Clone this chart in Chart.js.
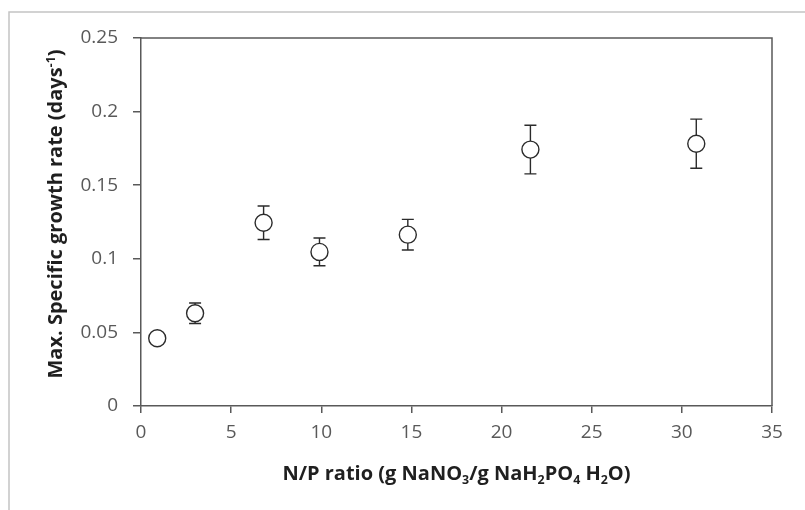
<!DOCTYPE html>
<html>
<head>
<meta charset="utf-8">
<title>Max. specific growth rate vs N/P ratio</title>
<script src="https://cdn.jsdelivr.net/npm/chart.js@4/dist/chart.umd.min.js"></script>
<style>
    html, body { margin: 0; padding: 0; background: #fff; }
    #wrap { width: 805px; height: 510px; position: relative; }
</style>
</head>
<body>
<div id="wrap"><canvas id="growthChart" width="805" height="510"></canvas></div>
<script>
// ===== DATA =====
var npRatio = [0.9, 3.0, 6.8, 9.9, 14.8, 21.6, 30.8];
var growthRate = [0.046, 0.063, 0.1245, 0.1047, 0.1164, 0.1742, 0.1782];
var growthErr = [0.003, 0.007, 0.0114, 0.0094, 0.0104, 0.0165, 0.0167];
var xTicks = [0, 5, 10, 15, 20, 25, 30, 35];
var yTicks = [0, 0.05, 0.1, 0.15, 0.2, 0.25];

// axis titles, split so sub/superscripts can be drawn smaller
var xTitle = [
    { t: 'N/P ratio (g NaNO' }, { t: '3', sub: true }, { t: '/g NaH' }, { t: '2', sub: true },
    { t: 'PO' }, { t: '4', sub: true }, { t: ' H' }, { t: '2', sub: true }, { t: 'O)' }
];
var yTitle = [
    { t: 'Max. Specific growth rate (days' }, { t: '-1', sup: true }, { t: ')' }
];

var FONT = '"Open Sans", Lato, sans-serif';
var AXIS = '#595959';
var TITLE_SIZE = 20;

function richWidth(ctx, parts, size) {
    var w = 0;
    parts.forEach(function(p) {
        ctx.font = 'bold ' + (p.sub || p.sup ? size * 0.62 : size) + 'px ' + FONT;
        w += ctx.measureText(p.t).width;
    });
    return w;
}

function drawRich(ctx, parts, size, cx, baseline) {
    var x = cx - richWidth(ctx, parts, size) / 2;
    ctx.textAlign = 'left';
    ctx.textBaseline = 'alphabetic';
    parts.forEach(function(p) {
        var s = p.sub || p.sup ? size * 0.62 : size;
        var dy = p.sub ? size * 0.2 : (p.sup ? -size * 0.36 : 0);
        ctx.font = 'bold ' + s + 'px ' + FONT;
        ctx.fillText(p.t, x, baseline + dy);
        x += ctx.measureText(p.t).width;
    });
}

// ===== PLUGINS =====
var frameAndTitles = {
    id: 'frameAndTitles',
    beforeDraw: function(chart) {
        var ctx = chart.ctx;
        ctx.save();
        ctx.fillStyle = '#fff';
        ctx.fillRect(0, 0, chart.width, chart.height);
        // outer chart border
        ctx.strokeStyle = '#c4c4c4';
        ctx.lineWidth = 1.5;
        ctx.beginPath();
        ctx.moveTo(9, chart.height);
        ctx.lineTo(9, 12);
        ctx.lineTo(chart.width, 12);
        ctx.stroke();
        ctx.restore();
    },
    afterDraw: function(chart) {
        var ctx = chart.ctx;
        var a = chart.chartArea;
        ctx.save();
        // top and right of the plot box
        ctx.strokeStyle = AXIS;
        ctx.lineWidth = 1.5;
        ctx.beginPath();
        ctx.moveTo(a.left, a.top);
        ctx.lineTo(a.right, a.top);
        ctx.lineTo(a.right, a.bottom);
        ctx.stroke();

        ctx.fillStyle = '#1f1f1f';
        drawRich(ctx, xTitle, TITLE_SIZE, (a.left + a.right) / 2, 480);
        ctx.translate(62, 214);
        ctx.rotate(-Math.PI / 2);
        drawRich(ctx, yTitle, TITLE_SIZE, 0, 0);
        ctx.restore();
    }
};

var errorBars = {
    id: 'errorBars',
    beforeDatasetsDraw: function(chart) {
        var ctx = chart.ctx;
        var xs = chart.scales.x, ys = chart.scales.y;
        ctx.save();
        ctx.strokeStyle = '#2b2b2b';
        ctx.lineWidth = 1.4;
        npRatio.forEach(function(v, i) {
            var px = xs.getPixelForValue(v);
            var top = ys.getPixelForValue(growthRate[i] + growthErr[i]);
            var bot = ys.getPixelForValue(growthRate[i] - growthErr[i]);
            ctx.beginPath();
            ctx.moveTo(px, top); ctx.lineTo(px, bot);
            ctx.moveTo(px - 6, top); ctx.lineTo(px + 6, top);
            ctx.moveTo(px - 6, bot); ctx.lineTo(px + 6, bot);
            ctx.stroke();
        });
        ctx.restore();
    }
};

// ===== CHART =====
new Chart(document.getElementById('growthChart'), {
    type: 'scatter',
    data: {
        datasets: [{
            data: npRatio.map(function(x, i) { return { x: x, y: growthRate[i] }; }),
            pointRadius: 8.5,
            pointHoverRadius: 8.5,
            pointBackgroundColor: '#fff',
            pointBorderColor: '#2b2b2b',
            pointBorderWidth: 1.4
        }]
    },
    options: {
        responsive: false,
        animation: false,
        events: [],
        layout: { padding: { left: 0, top: 38, right: 33, bottom: 0 } },
        plugins: { legend: { display: false }, tooltip: { enabled: false } },
        scales: {
            x: {
                type: 'linear',
                min: 0, max: 35,
                afterBuildTicks: function(s) { s.ticks = xTicks.map(function(v) { return { value: v }; }); },
                afterFit: function(s) { s.height = 104; },
                border: { display: true, color: AXIS, width: 1.5 },
                grid: { drawOnChartArea: false, drawTicks: true, tickLength: 7, color: AXIS, lineWidth: 1.5 },
                ticks: { color: AXIS, padding: 8, font: { family: FONT, size: 19 }, maxRotation: 0 }
            },
            y: {
                type: 'linear',
                min: 0, max: 0.25,
                afterBuildTicks: function(s) { s.ticks = yTicks.map(function(v) { return { value: v }; }); },
                afterFit: function(s) { s.width = 141; },
                border: { display: true, color: AXIS, width: 1.5 },
                grid: { drawOnChartArea: false, drawTicks: true, tickLength: 8, color: AXIS, lineWidth: 1.5 },
                ticks: {
                    color: AXIS, padding: 15, font: { family: FONT, size: 19 },
                    callback: function(v) { return String(+v.toFixed(2)); }
                }
            }
        }
    },
    plugins: [frameAndTitles, errorBars]
});
</script>
</body>
</html>
